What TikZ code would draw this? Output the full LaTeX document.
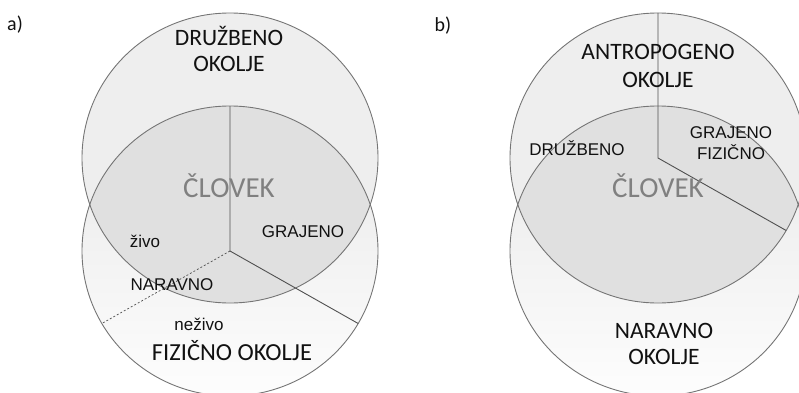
\documentclass[tikz,border=0pt]{standalone}
\usepackage{fontspec}
\setmainfont{Liberation Sans}
\newfontfamily\calfont{Carlito}
\usetikzlibrary{calc}
\definecolor{rim}{HTML}{757575}
\definecolor{spoke}{HTML}{505050}
\definecolor{ringfill}{HTML}{EEEEEE}
\definecolor{lensfill}{HTML}{E0E0E0}
\definecolor{fadetop}{HTML}{E8E8E8}
\definecolor{fadebot}{HTML}{FDFDFD}
\definecolor{humantext}{HTML}{808080}
\definecolor{ink}{HTML}{111111}
\tikzset{
  rimline/.style={draw=rim, line width=0.9pt},
  spokeline/.style={draw=spoke, line width=0.9pt},
  dashspoke/.style={draw=spoke, line width=0.7pt, dash pattern=on 2pt off 2pt},
  bigtext/.style={font=\calfont\fontsize{23.5}{25}\selectfont, text=ink, inner sep=0pt, anchor=base},
  smalltext/.style={font=\fontsize{17}{19}\selectfont, text=ink, inner sep=0pt, anchor=base},
  humanlabel/.style={font=\calfont\fontsize{29}{31}\selectfont, text=humantext, inner sep=0pt, anchor=base},
  paneltag/.style={font=\calfont\fontsize{20}{22}\selectfont, text=ink, inner sep=0pt, anchor=base},
  ring/.style={x radius=148pt, y radius=145pt},
}
\begin{document}
\begin{tikzpicture}[x=1pt,y=1pt]
\useasboundingbox (0,0) rectangle (799,392);

% ---------- panel a ----------
\coordinate (aT) at (230,234);
\coordinate (aB) at (230,141);
\shade[top color=fadetop, bottom color=fadebot] (aB) ellipse [ring];
\fill[ringfill] (aT) ellipse [ring];
\begin{scope}
  \clip (aT) ellipse [ring];
  \fill[lensfill] (aB) ellipse [ring];
\end{scope}
\draw[rimline] (aT) ellipse [ring];
\draw[rimline] (aB) ellipse [ring];
\coordinate (aTop) at ($(aB)+(0,145)$);
\coordinate (aRight) at ($(aB)+(-30:148pt and 145pt)$);
\coordinate (aLeft) at ($(aB)+(210:148pt and 145pt)$);
\draw[spokeline] (aTop) -- (aB) -- (aRight);
\draw[dashspoke] (aB) -- (aLeft);

\node[paneltag] (tagA) at (15,362) {a)};
\node[bigtext] (drA1) at (229,347) {DRUŽBENO};
\node[bigtext] (drA2) at (229,320.5) {OKOLJE};
\node[humanlabel] (humA) at (229,195) {ČLOVEK};
\node[smalltext] (graA) at (303,155) {GRAJENO};
\node[smalltext] (zivA) at (145,145) {živo};
\node[smalltext] (narA) at (172,102) {NARAVNO};
\node[smalltext] (nezA) at (199,62) {neživo};
\node[bigtext, font=\calfont\fontsize{24.5}{26}\selectfont] (fizA) at (232,32) {FIZIČNO OKOLJE};

% ---------- panel b ----------
\coordinate (bT) at (658,234);
\coordinate (bB) at (658,141);
\shade[top color=fadetop, bottom color=fadebot] (bB) ellipse [ring];
\fill[ringfill] (bT) ellipse [ring];
\begin{scope}
  \clip (bT) ellipse [ring];
  \fill[lensfill] (bB) ellipse [ring];
\end{scope}
\draw[rimline] (bT) ellipse [ring];
\draw[rimline] (bB) ellipse [ring];
\coordinate (bTop) at ($(bT)+(0,145)$);
\coordinate (bRight) at ($(bT)+(-30:148pt and 145pt)$);
\draw[spokeline] (bTop) -- (bT) -- (bRight);

\node[paneltag] (tagB) at (443,361) {b)};
\node[bigtext] (antB1) at (658,333) {ANTROPOGENO};
\node[bigtext] (antB2) at (658,305) {OKOLJE};
\node[smalltext] (druB) at (577,237) {DRUŽBENO};
\node[smalltext] (graB1) at (731,254) {GRAJENO};
\node[smalltext] (graB2) at (731,233) {FIZIČNO};
\node[humanlabel] (humB) at (658,195) {ČLOVEK};
\node[bigtext] (narB1) at (664,54) {NARAVNO};
\node[bigtext] (narB2) at (664,28) {OKOLJE};
\end{tikzpicture}
\end{document}
